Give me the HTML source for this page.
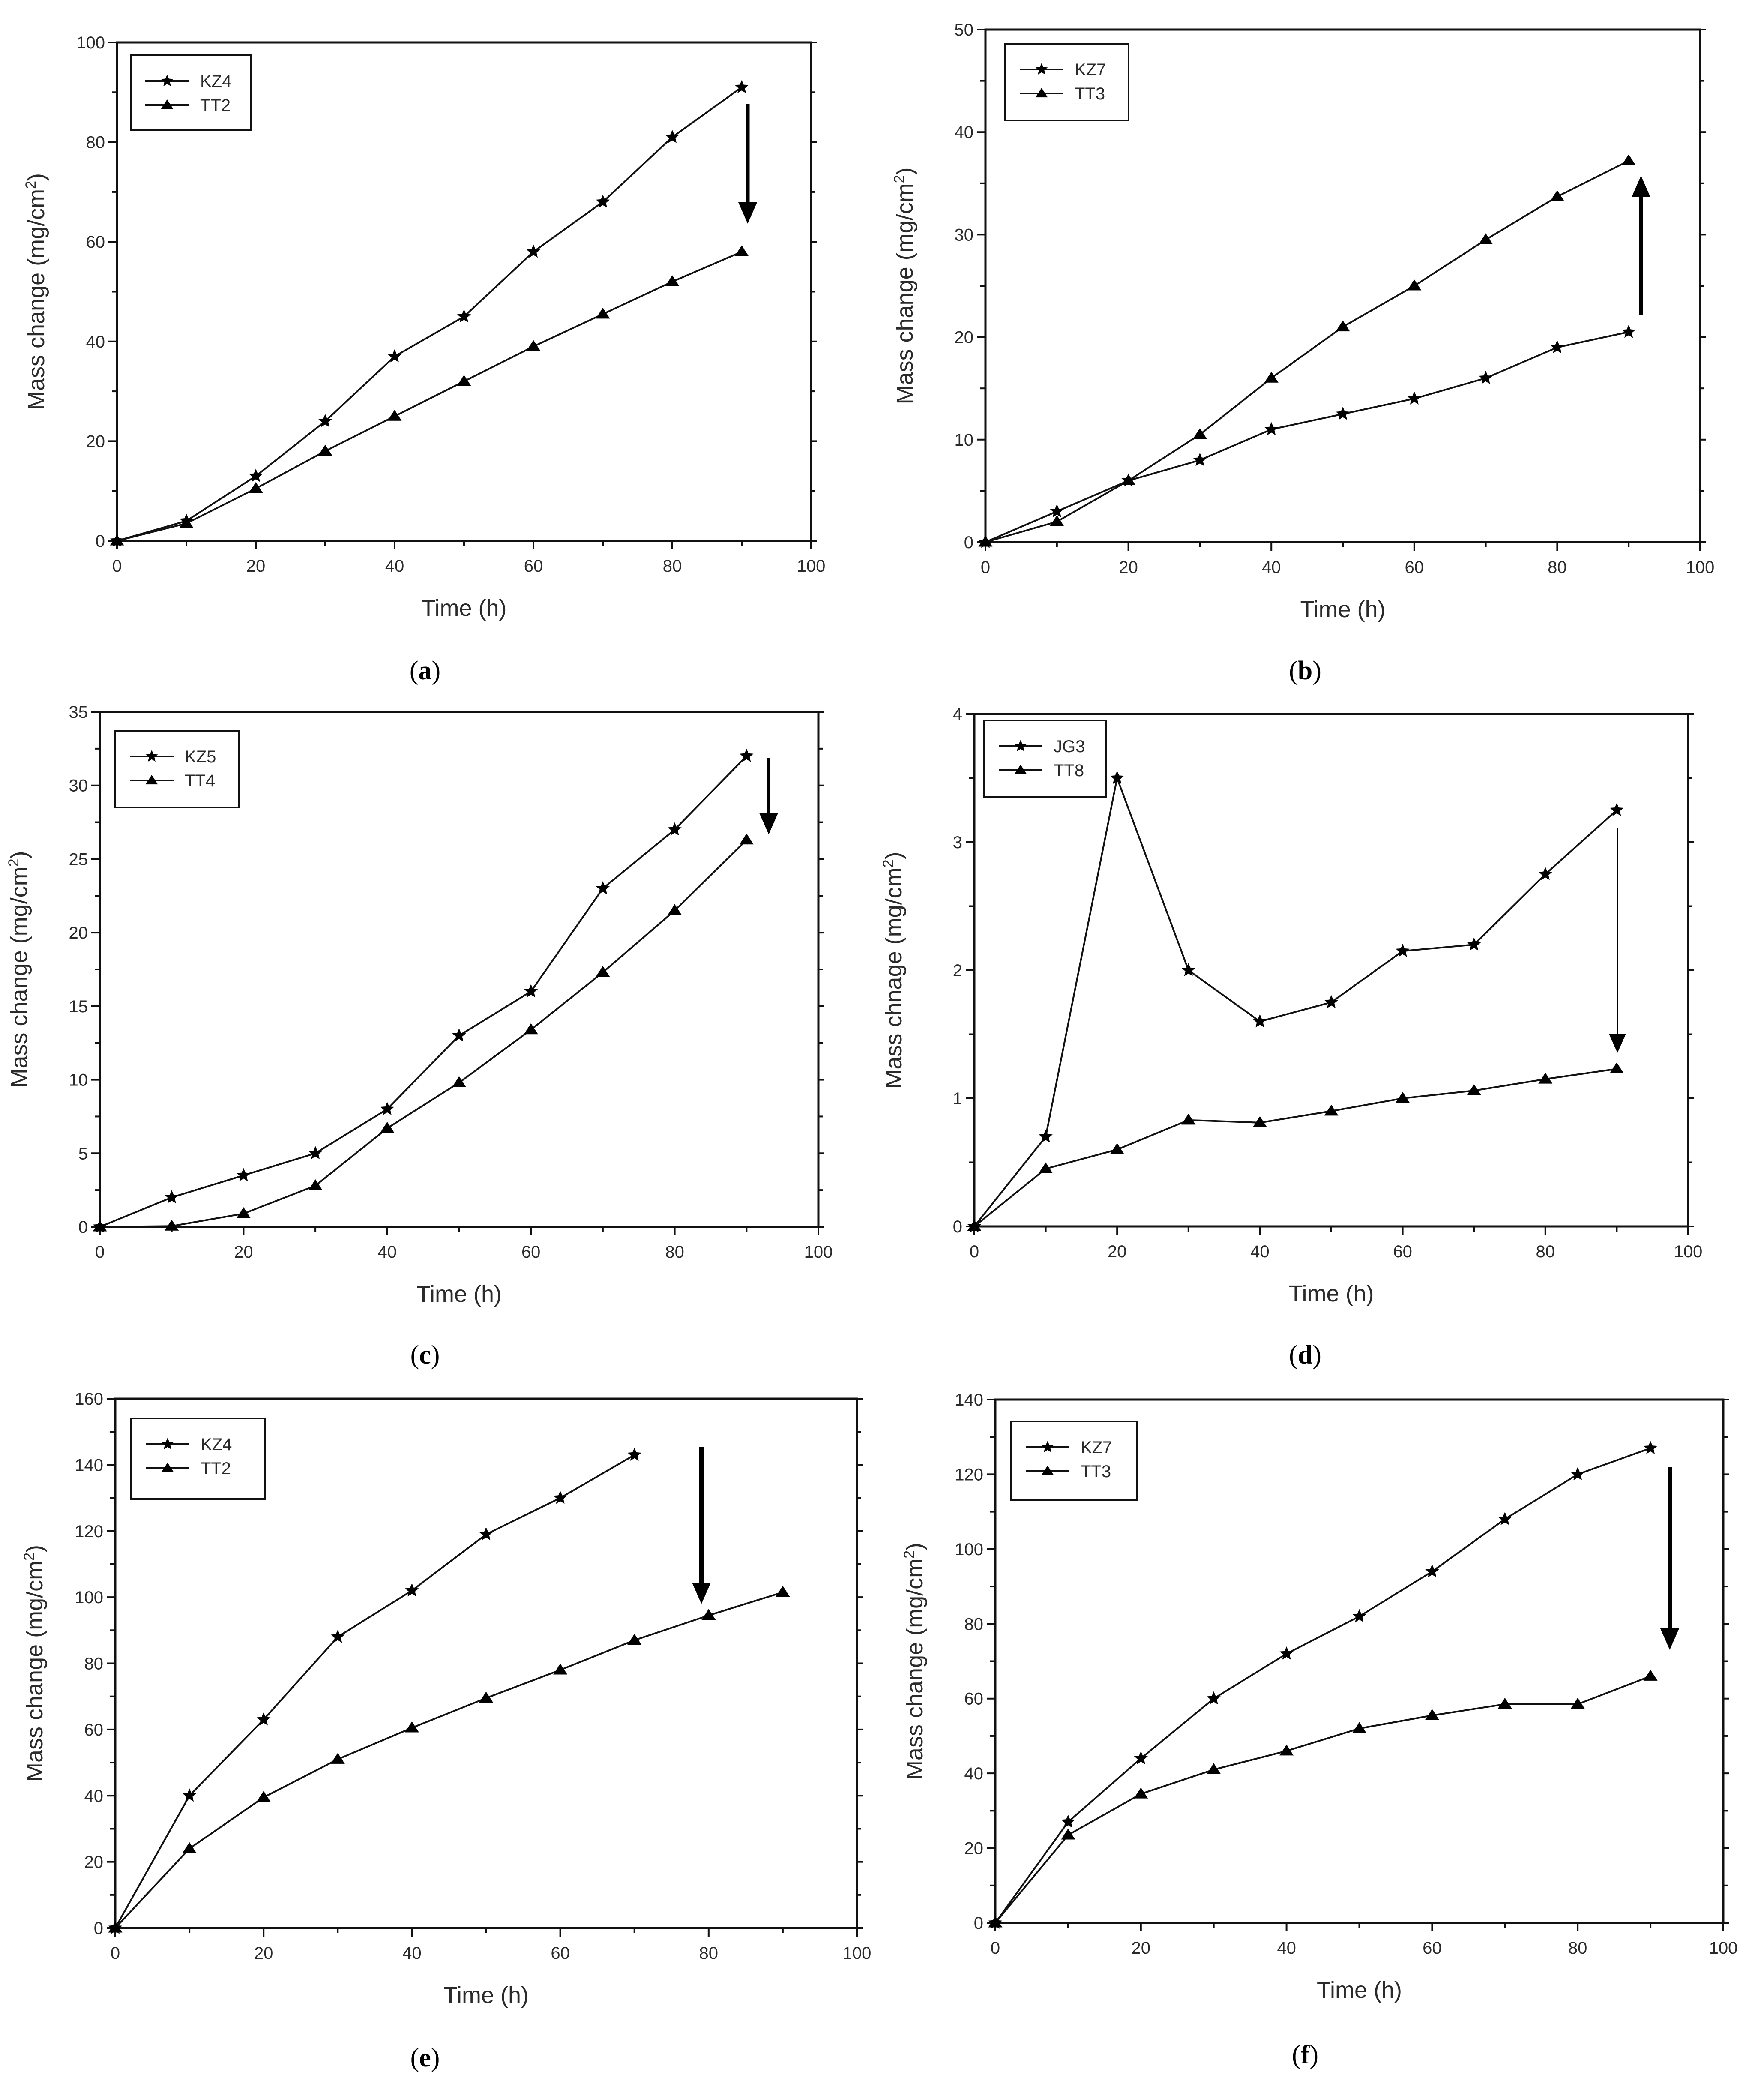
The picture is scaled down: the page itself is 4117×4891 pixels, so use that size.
<!DOCTYPE html>
<html><head><meta charset="utf-8"><style>
html,body{margin:0;padding:0;background:#fff;}
svg{display:block;}
text{font-family:"Liberation Sans",Arial,sans-serif;fill:#2a2a2a;}
.cap{font-family:"Liberation Serif",serif;fill:#000;}
</style></head><body>
<svg id="fig" xmlns="http://www.w3.org/2000/svg" width="4117" height="4891" viewBox="0 0 4117 4891"></svg>
<script>
// ---- data ----
const xA = [0,10,20,30,40,50,60,70,80,90];
const aKZ4 = [0,4,13,24,37,45,58,68,81,91];
const aTT2 = [0,3.5,10.5,18,25,32,39,45.5,52,58];
const bKZ7 = [0,3,6,8,11,12.5,14,16,19,20.5];
const bTT3 = [0,2,6,10.5,16,21,25,29.5,33.7,37.2];
const cKZ5 = [0,2,3.5,5,8,13,16,23,27,32];
const cTT4 = [0,0.05,0.9,2.8,6.7,9.8,13.4,17.3,21.5,26.3];
const dJG3 = [0,0.7,3.5,2,1.6,1.75,2.15,2.2,2.75,3.25];
const dTT8 = [0,0.45,0.6,0.83,0.81,0.9,1.0,1.06,1.15,1.23];
const xE1 = [0,10,20,30,40,50,60,70];
const eKZ4 = [0,40,63,88,102,119,130,143];
const eTT2 = [0,24,39.5,51,60.5,69.5,78,87,94.5,101.5];
const fKZ7 = [0,27,44,60,72,82,94,108,120,127];
const fTT3 = [0,23.5,34.5,41,46,52,55.5,58.5,58.5,66];
const xTicks = [0,20,40,60,80,100];
const yTicksA = [0,20,40,60,80,100];
const yTicksB = [0,10,20,30,40,50];
const yTicksC = [0,5,10,15,20,25,30,35];
const yTicksD = [0,1,2,3,4];
const yTicksE = [0,20,40,60,80,100,120,140,160];
const yTicksF = [0,20,40,60,80,100,120,140];

const NS="http://www.w3.org/2000/svg";
const svg=document.getElementById('fig');
function mk(tag,attrs,parent){const e=document.createElementNS(NS,tag);for(const k in attrs)e.setAttribute(k,attrs[k]);(parent||svg).appendChild(e);return e;}
function starPts(cx,cy,r){let p=[];for(let i=0;i<10;i++){const a=-Math.PI/2+i*Math.PI/5;const rr=i%2?r*0.45:r;p.push((cx+rr*Math.cos(a)).toFixed(1)+','+(cy+rr*Math.sin(a)).toFixed(1));}return p.join(' ');}
function triPts(cx,cy,r){return [cx+','+(cy-r),(cx+r*1.1)+','+(cy+r*0.7),(cx-r*1.1)+','+(cy+r*0.7)].join(' ');}

function panel(o){
  const g=mk('g',{});
  
  
  const X=v=>o.L+(v-0)/(100)*(o.R-o.L);
  const Y=v=>o.B-(v-o.yt[0])/(o.yt[o.yt.length-1]-o.yt[0])*(o.B-o.T);
  const frame=mk('rect',{x:o.L,y:o.T,width:o.R-o.L,height:o.B-o.T,fill:'none',stroke:'#111','stroke-width':5},g);
  
  
  for(let v=0;v<=100;v+=10){const maj=v%20===0;mk('line',{x1:X(v),x2:X(v),y1:o.B,y2:o.B+(maj?20:12),stroke:'#111','stroke-width':4},g);}
  xTicks.forEach(v=>{const t=mk('text',{x:X(v),y:o.B+72,'font-size':40,'text-anchor':'middle'},g);t.textContent=v;
    });
  const st=o.yt[1]-o.yt[0];
  for(let i=0;i<o.yt.length;i++){const v=o.yt[i];
    mk('line',{x1:o.L-20,x2:o.L,y1:Y(v),y2:Y(v),stroke:'#111','stroke-width':4},g);
    mk('line',{x1:o.R,x2:o.R+14,y1:Y(v),y2:Y(v),stroke:'#111','stroke-width':4},g);
    if(i<o.yt.length-1){const m=v+st/2;mk('line',{x1:o.L-12,x2:o.L,y1:Y(m),y2:Y(m),stroke:'#111','stroke-width':4},g);
      mk('line',{x1:o.R,x2:o.R+10,y1:Y(m),y2:Y(m),stroke:'#111','stroke-width':4},g);}
    const t=mk('text',{x:o.L-28,y:Y(v)+14,'font-size':40,'text-anchor':'end'},g);t.textContent=v;
    }
  const xt=mk('text',{x:(o.L+o.R)/2,y:o.B+175,'font-size':54,'text-anchor':'middle'},g);xt.textContent='Time (h)';
  
  const yx=o.L-170, yc=(o.T+o.B)/2;
  const yt=mk('text',{x:yx,y:yc,'font-size':54,'text-anchor':'middle',transform:`rotate(-90 ${yx} ${yc})`},g);
  yt.textContent=o.ylab+' (mg/cm';
  const sup=mk('tspan',{dy:-20,'font-size':34},yt);sup.textContent='2';
  const cl=mk('tspan',{dy:20},yt);cl.textContent=')';
  
  o.series.forEach(s=>{
    const pts=s.y.map((v,i)=>X(s.x[i])+','+Y(v)).join(' ');
    const pl=mk('polyline',{points:pts,fill:'none',stroke:'#111','stroke-width':4},g);
    
    
    s.y.forEach((v,i)=>{
      const m=mk('polygon',{points:s.mk==='star'?starPts(X(s.x[i]),Y(v),17):triPts(X(s.x[i]),Y(v),15),fill:'#000'},g);
      
      
    });
  });
  const lg=mk('g',{},g);
  
  mk('rect',{x:o.lg[0],y:o.lg[1],width:o.lg[2],height:o.lg[3],fill:'#fff',stroke:'#111','stroke-width':4},lg);
  o.series.forEach((s,i)=>{
    const ly=o.lg[1]+60+i*56, lx=o.lg[0]+34;
    mk('line',{x1:lx,x2:lx+102,y1:ly,y2:ly,stroke:'#111','stroke-width':4},lg);
    mk('polygon',{points:s.mk==='star'?starPts(lx+51,ly,15):triPts(lx+51,ly,13),fill:'#000'},lg);
    const t=mk('text',{x:lx+128,y:ly+14,'font-size':40},lg);t.textContent=s.name;
    
  });
  const a=o.arrow, w=a[3], dir=a[2]>a[1]?1:-1, hl=w>6?50:45, hw=w>6?22:20;
  mk('line',{x1:a[0],x2:a[0],y1:a[1],y2:a[2]-dir*hl,stroke:'#000','stroke-width':w},g);
  const ah=mk('polygon',{points:`${a[0]-hw},${a[2]-dir*hl} ${a[0]+hw},${a[2]-dir*hl} ${a[0]},${a[2]}`,fill:'#000'},g);
  
  const c=mk('text',{x:o.cap[0],y:o.cap[1],'font-size':62,'text-anchor':'middle',class:'cap'},g);
  c.textContent='(';const b=mk('tspan',{'font-weight':'bold'},c);b.textContent=o.id;const c2=mk('tspan',{},c);c2.textContent=')';
  
}

panel({id:'a',L:273,R:1893,T:99,B:1262,yt:yTicksA,ylab:'Mass change',lg:[305,129,280,175],arrow:[1745,242,522,9],cap:[992,1585],
  series:[{name:'KZ4',x:xA,y:aKZ4,mk:'star'},{name:'TT2',x:xA,y:aTT2,mk:'tri'}]});
panel({id:'b',L:2300,R:3968,T:69,B:1265,yt:yTicksB,ylab:'Mass change',lg:[2346,102,288,179],arrow:[3830,734,410,9],cap:[3046,1585],
  series:[{name:'KZ7',x:xA,y:bKZ7,mk:'star'},{name:'TT3',x:xA,y:bTT3,mk:'tri'}]});
panel({id:'c',L:233,R:1910,T:1661,B:2863,yt:yTicksC,ylab:'Mass change',lg:[269,1705,288,179],arrow:[1794,1768,1947,8],cap:[992,3182],
  series:[{name:'KZ5',x:xA,y:cKZ5,mk:'star'},{name:'TT4',x:xA,y:cTT4,mk:'tri'}]});
panel({id:'d',L:2274,R:3940,T:1666,B:2862,yt:yTicksD,ylab:'Mass chnage',lg:[2297,1681,285,179],arrow:[3775,1931,2457,4],cap:[3046,3182],
  series:[{name:'JG3',x:xA,y:dJG3,mk:'star'},{name:'TT8',x:xA,y:dTT8,mk:'tri'}]});
panel({id:'e',L:269,R:2000,T:3264,B:4499,yt:yTicksE,ylab:'Mass change',lg:[306,3310,312,188],arrow:[1637,3376,3743,10],cap:[992,4822],
  series:[{name:'KZ4',x:xE1,y:eKZ4,mk:'star'},{name:'TT2',x:xA,y:eTT2,mk:'tri'}]});
panel({id:'f',L:2323,R:4022,T:3266,B:4487,yt:yTicksF,ylab:'Mass change',lg:[2360,3317,293,183],arrow:[3897,3424,3850,10],cap:[3046,4815],
  series:[{name:'KZ7',x:xA,y:fKZ7,mk:'star'},{name:'TT3',x:xA,y:fTT3,mk:'tri'}]});
</script>
</body></html>
